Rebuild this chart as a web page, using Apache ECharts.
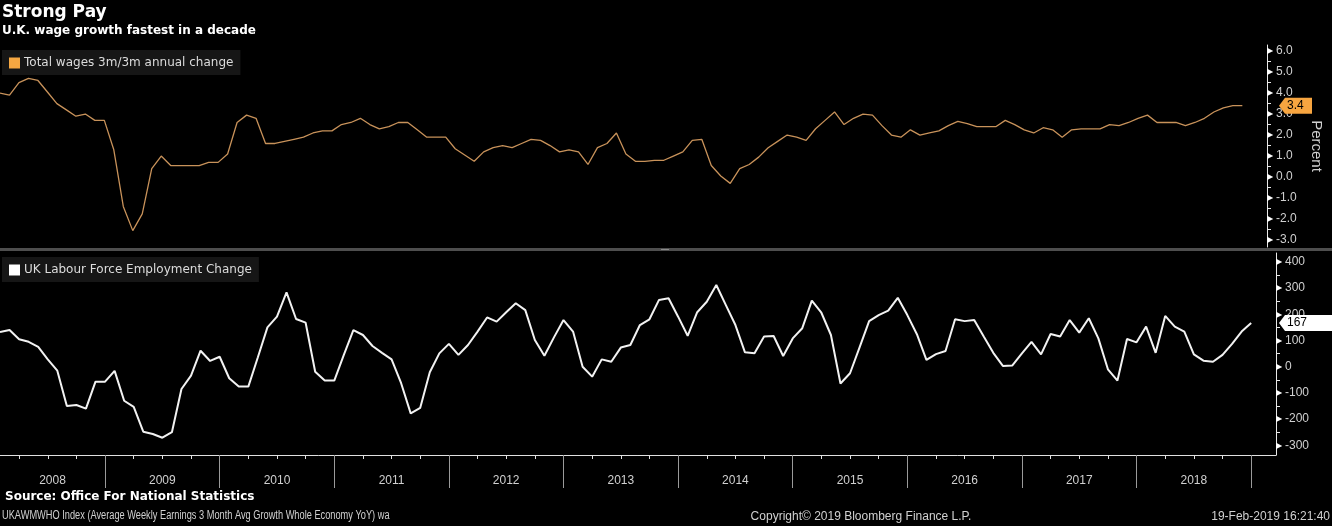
<!DOCTYPE html>
<html><head><meta charset="utf-8">
<script src="https://cdn.jsdelivr.net/npm/echarts@6/dist/echarts.min.js"></script>
<style>html,body{margin:0;padding:0;background:#000;}#c{width:1332px;height:526px;}</style>
</head><body><div id="c"></div>
<script>
// Monthly observations, Jan 2008 .. Dec 2018 (index 0 = Jan 2008)
const wages = [
 4.0, 3.9, 4.5, 4.7, 4.6, 4.05, 3.5, 3.2, 2.9, 3.0, 2.7, 2.7,
 1.3, -1.4, -2.55, -1.75, 0.4, 1.0, 0.55, 0.55, 0.55, 0.55, 0.7, 0.7,
 1.1, 2.6, 2.95, 2.8, 1.6, 1.6, 1.7, 1.8, 1.9, 2.1, 2.2, 2.2,
 2.5, 2.6, 2.8, 2.5, 2.3, 2.4, 2.6, 2.6, 2.25, 1.9, 1.9, 1.9,
 1.35, 1.05, 0.75, 1.2, 1.4, 1.5, 1.4, 1.6, 1.8, 1.75, 1.5, 1.2,
 1.3, 1.2, 0.6, 1.4, 1.6, 2.1, 1.1, 0.75, 0.75, 0.8, 0.8, 1.0,
 1.2, 1.75, 1.8, 0.55, 0.05, -0.3, 0.4, 0.6, 0.95, 1.4, 1.7, 2.0,
 1.9, 1.75, 2.3, 2.7, 3.1, 2.5, 2.8, 3.0, 2.95, 2.45, 2.0, 1.9,
 2.25, 2.0, 2.1, 2.2, 2.45, 2.65, 2.55, 2.4, 2.4, 2.4, 2.7, 2.5,
 2.25, 2.1, 2.35, 2.25, 1.9, 2.25, 2.3, 2.3, 2.3, 2.5, 2.45, 2.6,
 2.8, 2.95, 2.6, 2.6, 2.6, 2.45, 2.6, 2.8, 3.1, 3.3, 3.4, 3.4
];
const employment = [
 132, 140, 105, 95, 76, 28, -15, -150, -146, -160, -57, -57,
 -16, -130, -153, -248, -257, -271, -250, -85, -34, 61, 22, 38,
 -44, -76, -76, 36, 150, 191, 284, 182, 168, -19, -53, -53,
 45, 140, 121, 79, 53, 28, -63, -178, -157, -21, 51, 87,
 45, 83, 134, 188, 172, 208, 242, 216, 102, 42, 112, 178,
 134, 0, -38, 28, 19, 73, 83, 159, 181, 255, 261, 191,
 118, 208, 248, 312, 235, 159, 55, 51, 115, 117, 41, 108,
 147, 252, 206, 121, -64, -25, 74, 174, 197, 214, 263, 197,
 124, 26, 48, 60, 181, 174, 178, 115, 53, 3, 5, 51,
 95, 47, 125, 115, 178, 130, 185, 108, -10, -53, 106, 93,
 153, 53, 194, 153, 134, 47, 23, 19, 45, 87, 134, 167
];
const years = [2008, 2009, 2010, 2011, 2012, 2013, 2014, 2015, 2016, 2017, 2018];
const wageTicks = [-3, -2, -1, 0, 1, 2, 3, 4, 5, 6];
const empTicks = [-300, -200, -100, 0, 100, 200, 300, 400];
const months = [];
years.forEach(y => { for (let m = 1; m <= 12; m++) months.push(y + '-' + String(m).padStart(2, '0')); });

const wageLast = wages[wages.length - 1];
const empLast = employment[employment.length - 1];

const XMIN = 0, XMAX = 133.6;
const yearBounds = years.map((y, k) => 12 * k + 11);
const yearCenters = years.map((y, k) => k === 0 ? 5.5 : 12 * k + 5);
const quarterTicks = [];
for (let i = 2; i < 132; i += 3) if ((i + 1) % 12 !== 0) quarterTicks.push(i);
const halfSteps = [];
for (let v = -3; v <= 6; v += 0.5) halfSteps.push(v);
const empHalf = [];
for (let v = -300; v <= 400; v += 50) empHalf.push(v);

const FONT = "'Liberation Sans',sans-serif";
const DFONT = "'DejaVu Sans',sans-serif";
const chart = echarts.init(document.getElementById('c'), null, {renderer: 'canvas'});

const yLabel = (fmt) => ({
  show: true, margin: 0, color: '#d0d0d0', fontSize: 12, fontFamily: FONT,
  formatter: v => '{t|▶}' + fmt(v),
  rich: { t: { fontSize: 8, color: '#ffffff', padding: [0, 3, 0, 0] } }
});

chart.setOption({
  backgroundColor: '#000',
  animation: false,
  legend: [
    { left: 2, top: 50, padding: [7, 7, 6, 7], itemWidth: 11, itemHeight: 11, itemGap: 4,
      backgroundColor: '#161616', data: [{ name: 'Total wages 3m/3m annual change', icon: 'rect', itemStyle: { color: '#f5a742' } }],
      textStyle: { color: '#dcdcdc', fontSize: 12, fontFamily: DFONT, padding: [0, 0, 0, -1] } },
    { left: 2, top: 257, padding: [7, 7, 6, 7], itemWidth: 11, itemHeight: 11, itemGap: 4,
      backgroundColor: '#161616', data: [{ name: 'UK Labour Force Employment Change', icon: 'rect', itemStyle: { color: '#ffffff' } }],
      textStyle: { color: '#dcdcdc', fontSize: 12, fontFamily: DFONT, padding: [0, 0, 0, -1] } }
  ],
  grid: [
    { left: 0, top: 45, width: 1276, height: 202 },
    { left: 0, top: 253, width: 1276, height: 202 }
  ],
  xAxis: [
    { type: 'value', gridIndex: 0, min: XMIN, max: XMAX, show: false },
    { type: 'value', gridIndex: 1, min: XMIN, max: XMAX, position: 'bottom',
      axisLine: { show: true, onZero: false, lineStyle: { color: '#e0e0e0', width: 1 } },
      axisTick: { show: true, customValues: yearBounds, length: 33, lineStyle: { color: '#9a9a9a' } },
      axisLabel: { show: true, customValues: yearCenters, margin: 20, color: '#d0d0d0', fontSize: 12, fontFamily: FONT,
        formatter: v => String(2008 + Math.floor((v + 1) / 12)) },
      splitLine: { show: false } },
    { type: 'value', gridIndex: 1, min: XMIN, max: XMAX, position: 'bottom',
      axisLine: { show: false, onZero: false },
      axisTick: { show: true, customValues: quarterTicks, length: 4, lineStyle: { color: '#e0e0e0' } },
      axisLabel: { show: false }, splitLine: { show: false } }
  ],
  yAxis: [
    { type: 'value', gridIndex: 0, position: 'right', min: -3.33, max: 6.29,
      name: 'Percent', nameLocation: 'middle', nameRotate: -90, nameGap: 42,
      nameTextStyle: { color: '#cfcfcf', fontSize: 15, fontFamily: FONT },
      axisLine: { show: true, onZero: false, lineStyle: { color: '#e8e8e8' } },
      axisTick: { show: true, customValues: halfSteps, length: 4, lineStyle: { color: '#e8e8e8' } },
      axisLabel: Object.assign(yLabel(v => v.toFixed(1)), { customValues: wageTicks }),
      splitLine: { show: false } },
    { type: 'value', gridIndex: 1, position: 'right', min: -337, max: 434,
      axisLine: { show: true, onZero: false, lineStyle: { color: '#e8e8e8' } },
      axisTick: { show: true, customValues: empHalf, length: 4, lineStyle: { color: '#e8e8e8' } },
      axisLabel: Object.assign(yLabel(v => String(Math.round(v))), { customValues: empTicks }),
      splitLine: { show: false } }
  ],
  series: [
    { name: 'Total wages 3m/3m annual change', type: 'line', xAxisIndex: 0, yAxisIndex: 0,
      data: wages.map((v, i) => [i, v]), showSymbol: false, symbol: 'none',
      lineStyle: { color: '#c8925a', width: 1.3 }, itemStyle: { color: '#f5a742' } },
    { name: 'UK Labour Force Employment Change', type: 'line', xAxisIndex: 1, yAxisIndex: 1,
      data: employment.map((v, i) => [i, v]), showSymbol: false, symbol: 'none',
      lineStyle: { color: '#f2f2f2', width: 2 }, itemStyle: { color: '#ffffff' } }
  ]
});

const yW = chart.convertToPixel({ yAxisIndex: 0 }, wageLast);
const yE = chart.convertToPixel({ yAxisIndex: 1 }, empLast);
const tag = (y, x2, color, text) => ([
  { type: 'polygon', shape: { points: [[1279, y], [1285, y - 8], [x2, y - 8], [x2, y + 8], [1285, y + 8]] },
    style: { fill: color }, z: 100 },
  { type: 'text', x: 1287, y: y, style: { text: text, fill: '#000', font: "12px " + FONT, verticalAlign: 'middle' }, z: 101 }
]);

chart.setOption({
  graphic: [
    { type: 'rect', shape: { x: 0, y: 248, width: 1332, height: 3 }, style: { fill: '#4e4e4e' }, z: -1 },
    { type: 'rect', shape: { x: 661, y: 249, width: 8, height: 1 }, style: { fill: '#8a8a8a' }, z: 0 },
    { type: 'text', x: 2, y: 4, style: { text: 'Strong Pay', fill: '#ffffff', font: "bold 17px 'DejaVu Sans',sans-serif" } },
    { type: 'text', x: 2, y: 25, style: { text: 'U.K. wage growth fastest in a decade', fill: '#ffffff', font: "bold 12px 'DejaVu Sans',sans-serif" } },
    { type: 'text', x: 5, y: 491, style: { text: 'Source: Office For National Statistics', fill: '#ffffff', font: "bold 12px 'DejaVu Sans',sans-serif" } },
    { type: 'text', x: 2, y: 510, scaleX: 0.77, style: { text: 'UKAWMWHO Index (Average Weekly Earnings 3 Month Avg Growth Whole Economy YoY) wa', fill: '#d0d0d0', font: "12px " + FONT } },
    { type: 'text', x: 861, y: 511, style: { text: 'Copyright\u00A9 2019 Bloomberg Finance L.P.', fill: '#d0d0d0', font: "12px " + FONT, align: 'center' } },
    { type: 'text', x: 1330, y: 511, style: { text: '19-Feb-2019 16:21:40', fill: '#d0d0d0', font: "12px " + FONT, align: 'right' } },
    ...tag(yW, 1312, '#f7a540', wageLast.toFixed(1)),
    ...tag(yE, 1332, '#ffffff', String(empLast))
  ]
});
</script></body></html>
